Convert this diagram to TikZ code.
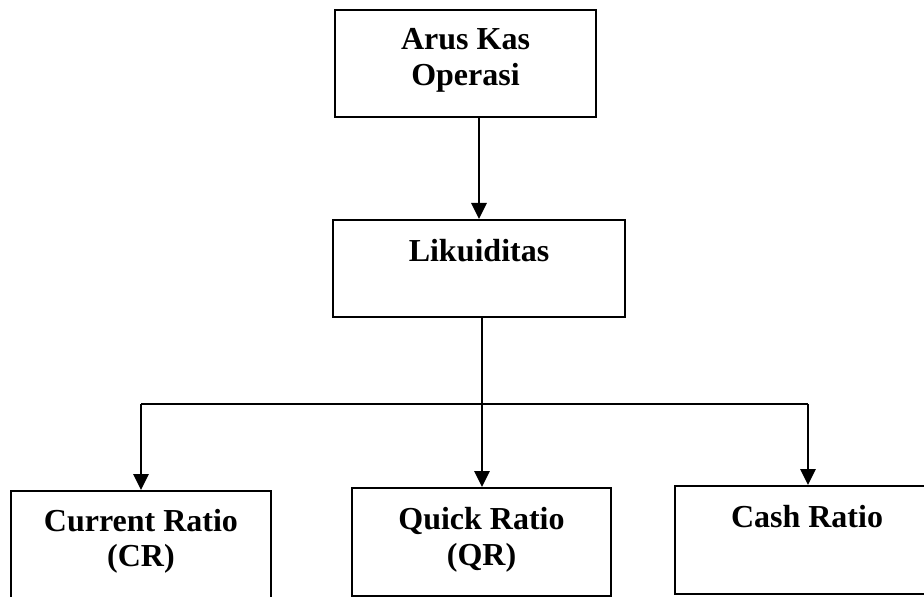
\documentclass[tikz,border=0pt]{standalone}
\usepackage{fontspec}
\setmainfont{Liberation Serif}
\usetikzlibrary{arrows.meta}
\begin{document}
\begin{tikzpicture}[x=0.5pt,y=-0.5pt,
  box/.style={draw=black,line width=1pt,inner sep=0pt,rectangle},
  lbl/.style={anchor=base,inner sep=0pt,font=\fontsize{16}{18}\selectfont\bfseries},
  arr/.style={line width=1.4pt,-{Triangle[length=8pt,width=7.5pt]}},
  ln/.style={line width=1pt}]
\useasboundingbox (0,0) rectangle (924,597);
% boxes
\node[box,minimum width=261*0.5pt,minimum height=107*0.5pt] (top) at (465.5,63.5) {};
\node[box,minimum width=292*0.5pt,minimum height=97*0.5pt] (lik) at (479,268.5) {};
\node[box,minimum width=260*0.5pt,minimum height=118*0.5pt] (cr) at (141,550) {};
\node[box,minimum width=259*0.5pt,minimum height=108*0.5pt] (qr) at (481.5,542) {};
\node[box,minimum width=266*0.5pt,minimum height=108*0.5pt] (cash) at (808,540) {};
% texts
\node[lbl] (t1) at (465.5,50) {Arus Kas};
\node[lbl] (t2) at (465.5,86) {Operasi};
\node[lbl] (t3) at (479,262) {Likuiditas};
\node[lbl] (t4) at (141,531) {Current Ratio};
\node[lbl] (t5) at (141,566) {(CR)};
\node[lbl] (t6) at (481.5,529) {Quick Ratio};
\node[lbl] (t7) at (481.5,565) {(QR)};
\node[lbl] (t8) at (807,527) {Cash Ratio};
% junction coordinates
\coordinate (jm) at (482,404);
\coordinate (jl) at (141,404);
\coordinate (jr) at (808,404);
% connectors
\draw[arr] (top.south -| lik.north) -- (lik.north);
\draw[line width=0.7pt] (lik.south -| jm) -- (jm);
\draw[ln] (jl) -- (jr);
\draw[arr] (jl) -- (jl |- cr.north);
\draw[arr] (jm) -- (jm |- qr.north);
\draw[arr] (jr) -- (jr |- cash.north);
\end{tikzpicture}
\end{document}
